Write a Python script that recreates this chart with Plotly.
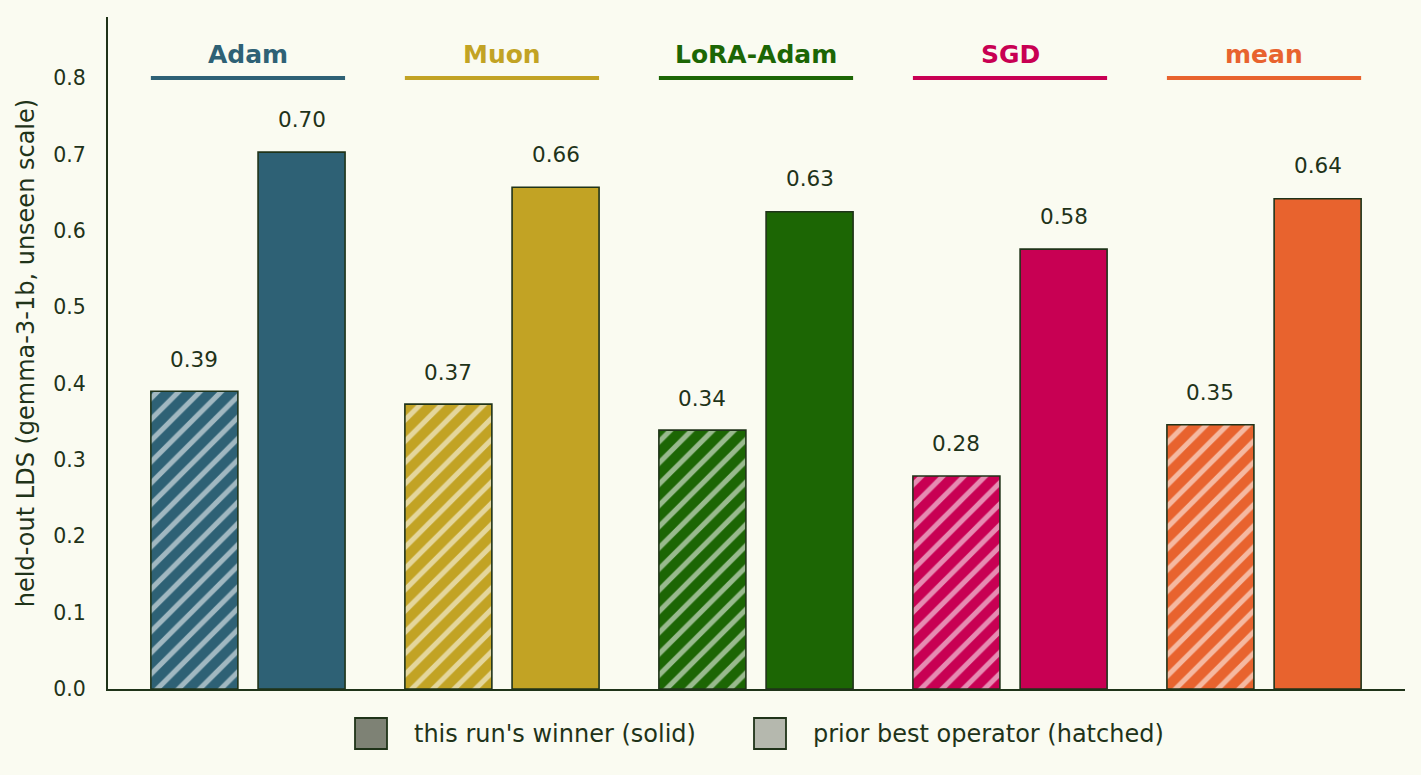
import plotly.graph_objects as go

groups = ["Adam", "Muon", "LoRA-Adam", "SGD", "mean"]
colors = ["#2E6175", "#C2A324", "#1C6604", "#C80053", "#E8632E"]
prior_best = [0.390, 0.373, 0.339, 0.279, 0.346]
winner = [0.703, 0.657, 0.625, 0.576, 0.642]
prior_labels = ["0.39", "0.37", "0.34", "0.28", "0.35"]
winner_labels = ["0.70", "0.66", "0.63", "0.58", "0.64"]
yticks = [0.0, 0.1, 0.2, 0.3, 0.4, 0.5, 0.6, 0.7, 0.8]
legend_names = ["this run's winner (solid)", "prior best operator (hatched)"]

BG = "#FAFBF1"
INK = "#1F3319"
FONT = "DejaVu Sans"
off = 0.211
bw = 0.3425


def tint(hexc, a=0.55):
    h = hexc.lstrip("#")
    r, g, b = (int(h[i:i + 2], 16) for i in (0, 2, 4))
    r, g, b = (round(c * (1 - a) + 255 * a) for c in (r, g, b))
    return f"#{r:02X}{g:02X}{b:02X}"


tints = [tint(c) for c in colors]

xs = list(range(len(groups)))
x_prior = [x - off for x in xs]
x_win = [x + off for x in xs]

fig = go.Figure()
for i in range(len(groups)):
    fig.add_trace(go.Bar(
        x=[x_prior[i]], y=[prior_best[i]], width=bw,
        marker=dict(color=colors[i], line=dict(color=INK, width=1.6),
                    pattern=dict(shape="/", fgcolor=tints[i], bgcolor=colors[i],
                                 fgopacity=1, size=15, solidity=0.34)),
        showlegend=False, hoverinfo="skip"))
fig.add_trace(go.Bar(
    x=x_win, y=winner, width=bw,
    marker=dict(color=colors, line=dict(color=INK, width=1.6)),
    showlegend=False, hoverinfo="skip"))

ann = []
for i in range(len(groups)):
    ann.append(dict(x=x_prior[i], y=prior_best[i], text=prior_labels[i], showarrow=False,
                    xref="x", yref="y", yanchor="middle", yshift=32,
                    font=dict(family=FONT, size=21.5, color=INK)))
    ann.append(dict(x=x_win[i], y=winner[i], text=winner_labels[i], showarrow=False,
                    xref="x", yref="y", yanchor="middle", yshift=33,
                    font=dict(family=FONT, size=21.5, color=INK)))
    ann.append(dict(x=xs[i], y=0.8, text="<b>" + groups[i] + "</b>", showarrow=False,
                    xref="x", yref="y", yanchor="middle", yshift=24,
                    font=dict(family=FONT, size=25, color=colors[i])))
    fig.add_shape(type="line", xref="x", yref="y",
                  x0=x_prior[i] - bw / 2, x1=x_win[i] + bw / 2, y0=0.8, y1=0.8,
                  line=dict(color=colors[i], width=4))

# manual legend in paper coordinates
W, H = 1421, 775
L, R, T, B = 108, 16, 17, 86
pw, ph = W - L - R, H - T - B


def px(xp):
    return (xp - L) / pw


def py(yp):
    return (H - B - yp) / ph


leg_colors = ["#7E8275", "#B5B8AE"]
leg_x = [355, 754]
for k in range(2):
    fig.add_shape(type="rect", xref="paper", yref="paper",
                  x0=px(leg_x[k]), x1=px(leg_x[k] + 32), y0=py(749), y1=py(718),
                  fillcolor=leg_colors[k], line=dict(color=INK, width=1.8))
    ann.append(dict(x=px(leg_x[k] + 57), y=py(734), xref="paper", yref="paper",
                    text=legend_names[k], showarrow=False, xanchor="left", yanchor="middle",
                    font=dict(family=FONT, size=24, color=INK)))

fig.update_layout(
    width=W, height=H, paper_bgcolor=BG, plot_bgcolor=BG,
    margin=dict(l=L, r=R, t=T, b=B),
    barmode="overlay", showlegend=False,
    annotations=ann,
    font=dict(family=FONT, color=INK),
    xaxis=dict(range=[-0.551, 4.555], showticklabels=False, ticks="", showgrid=False,
               zeroline=False, showline=True, linecolor=INK, linewidth=2),
    yaxis=dict(range=[0, 0.88], tickvals=yticks, ticktext=[f"{v:.1f}" for v in yticks],
               showgrid=False, zeroline=False, showline=True, linecolor=INK, linewidth=2,
               ticks="", ticklabelstandoff=16,
               tickfont=dict(family=FONT, size=20.5, color=INK),
               title=dict(text="held-out LDS (gemma-3-1b, unseen scale)", standoff=12,
                          font=dict(family=FONT, size=24, color=INK))),
)

fig.write_html("out.html")
